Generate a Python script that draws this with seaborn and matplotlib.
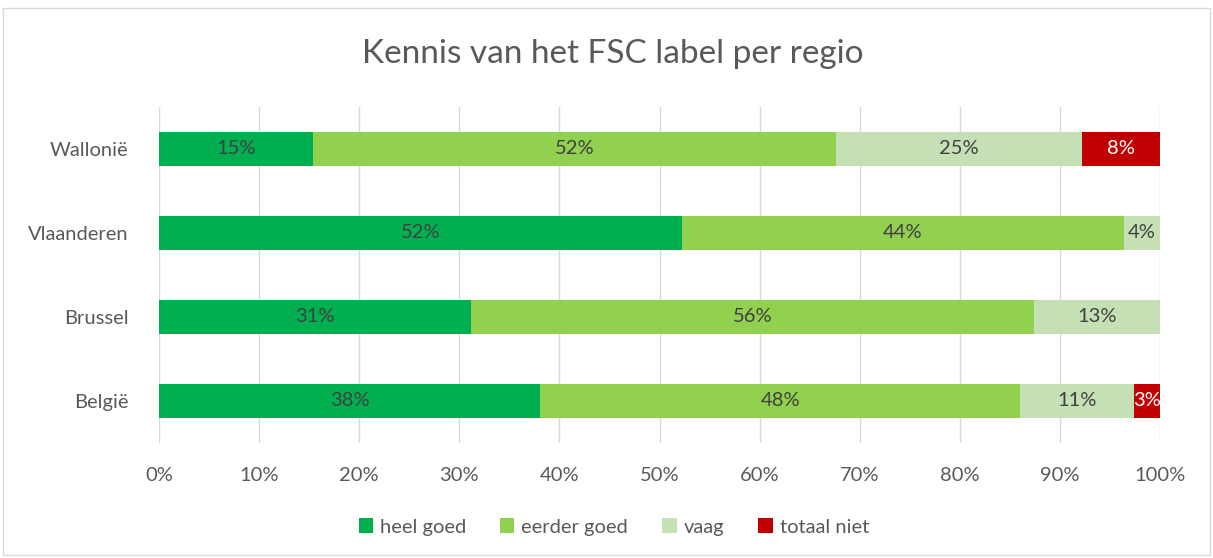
import numpy as np
import pandas as pd
import matplotlib
matplotlib.use("Agg")
import matplotlib.pyplot as plt
from matplotlib.patches import Patch, Rectangle
import seaborn as sns

# data (percent of respondents)
regions = ["Wallonië", "Vlaanderen", "Brussel", "België"]
levels = ["heel goed", "eerder goed", "vaag", "totaal niet"]
heel_goed = [15.4, 52.2, 31.2, 38.1]
eerder_goed = [52.2, 44.2, 56.2, 47.9]
vaag = [24.6, 3.6, 12.6, 11.4]
totaal_niet = [7.8, 0.0, 0.0, 2.6]
x_ticks = [0, 10, 20, 30, 40, 50, 60, 70, 80, 90, 100]

colors = ["#00B050", "#92D050", "#C5E0B4", "#C00000"]
label_colors = ["#404040", "#404040", "#404040", "#FFFFFF"]
grey = "#595959"

sns.set_theme(style="white")
plt.rcParams["font.family"] = ["Lato", "DejaVu Sans"]

df = pd.DataFrame({"regio": regions, "heel goed": heel_goed, "eerder goed": eerder_goed,
                   "vaag": vaag, "totaal niet": totaal_niet})
cum = df[levels].cumsum(axis=1)

fig = plt.figure(figsize=(12.13, 5.58), dpi=100)
ax = fig.add_axes([159 / 1213, 1 - 443 / 558, 1001 / 1213, 336 / 558])

# gridlines behind bars
for t in x_ticks:
    ax.axvline(t, color="#D9D9D9", lw=1, zorder=0)

# stacked bars: draw cumulative totals from the last level back to the first
for lvl, col in reversed(list(zip(levels, colors))):
    sns.barplot(data=cum.assign(regio=regions), x=lvl, y="regio", orient="h",
                color=col, width=0.4, linewidth=0, saturation=1, ax=ax, zorder=2)

# segment labels
for i, reg in enumerate(regions):
    start = 0
    for lvl, lc in zip(levels, label_colors):
        v = df.loc[i, lvl]
        if v > 0:
            ax.text(start + v / 2, i, f"{round(v):.0f}%", ha="center", va="center",
                    fontsize=14.5, color=lc, zorder=3)
        start += v

ax.set_xlim(0, 100)
ax.set_ylim(3.5, -0.5)
ax.set_xticks(x_ticks)
ax.set_xticklabels([f"{t}%" for t in x_ticks], fontsize=14.5, color=grey)
ax.tick_params(axis="y", labelsize=14.5, labelcolor=grey, length=0, pad=22)
ax.tick_params(axis="x", length=0, pad=17)
ax.set_xlabel("")
ax.set_ylabel("")
for s in ax.spines.values():
    s.set_visible(False)

fig.suptitle("Kennis van het FSC label per regio", x=0.505, y=0.903, fontsize=24,
             color=grey, va="center")

handles = [Patch(facecolor=c, edgecolor="none", label=l) for l, c in zip(levels, colors)]
fig.legend(handles=handles, loc="center", bbox_to_anchor=(0.506, 1 - 527 / 558), ncol=4,
           frameon=False, fontsize=14.5, handlelength=0.7, handleheight=0.7,
           handletextpad=0.35, columnspacing=1.7, labelcolor=grey)

# chart border
fig.patches.append(Rectangle((3 / 1213, 3 / 558), 1207 / 1213, 547 / 558,
                             transform=fig.transFigure, fill=False,
                             edgecolor="#D9D9D9", lw=1))

fig.savefig("out.png", dpi=100)
